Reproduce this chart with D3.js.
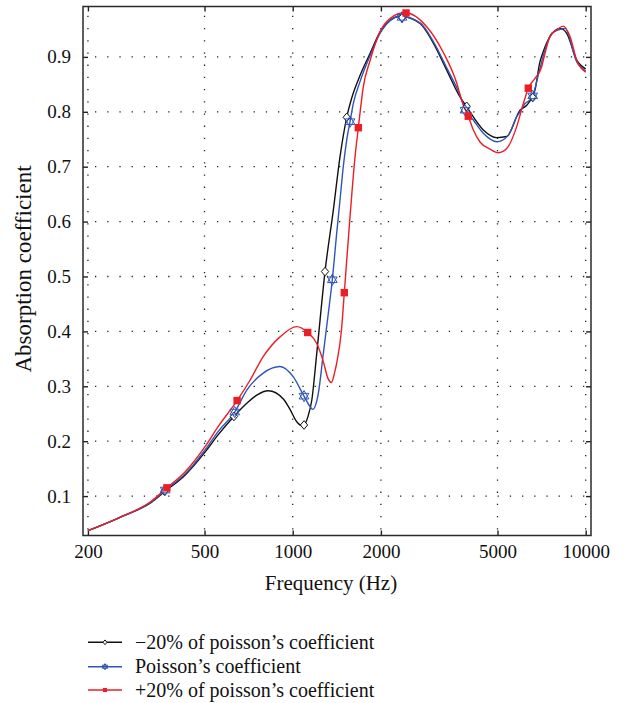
<!DOCTYPE html>
<html>
<head>
<meta charset="utf-8">
<script src="https://cdnjs.cloudflare.com/ajax/libs/d3/7.8.5/d3.min.js"></script>
<style>
  body { margin: 0; background: #fff; }
  svg text { font-family: "Liberation Serif", "DejaVu Serif", serif !important; fill: #111; }
</style>
</head>
<body>
<svg id="chart" width="625" height="703"></svg>
<script>
// ---- data ----
const xTicks = [200, 500, 1000, 2000, 5000, 10000];
const yTicks = [0.1, 0.2, 0.3, 0.4, 0.5, 0.6, 0.7, 0.8, 0.9];

// -20% of poisson's coefficient (black)
const freqMinus = [200, 254, 330, 365, 429, 502, 557, 630, 697, 754, 825, 929, 979, 1032, 1087, 1127, 1162, 1208, 1289, 1376, 1450, 1529, 1590, 1697, 1836, 1986, 2330, 2720, 3020, 3354, 3724, 3924, 4472, 4970, 5376, 5968, 6290, 6714, 6972, 7168, 7552, 8174, 8614, 9320, 10000];
const valMinus  = [0.037, 0.060, 0.089, 0.108, 0.138, 0.180, 0.212, 0.245, 0.269, 0.284, 0.292, 0.277, 0.258, 0.2355, 0.2277, 0.2447, 0.275, 0.36, 0.509, 0.621, 0.718, 0.790, 0.825, 0.866, 0.906, 0.945, 0.974, 0.961, 0.925, 0.876, 0.827, 0.809, 0.767, 0.753, 0.755, 0.803, 0.812, 0.840, 0.890, 0.910, 0.937, 0.952, 0.943, 0.894, 0.878];
const markMinusF = [365, 630, 1093, 1289, 1529, 2361, 3924, 6594];
const markMinusV = [0.109, 0.245, 0.2295, 0.509, 0.790, 0.971, 0.810, 0.826];

// Poisson's coefficient (blue)
const freqBase = [200, 254, 330, 367, 429, 502, 557, 634, 697, 793, 905, 1005, 1093, 1146, 1170, 1223, 1272, 1323, 1365, 1413, 1450, 1488, 1529, 1569, 1610, 1697, 1836, 1986, 2330, 2720, 3020, 3354, 3724, 3873, 4135, 4472, 4983, 5443, 5814, 5968, 6206, 6455, 6594, 6890, 7262, 7654, 8174, 8500, 9320, 10000];
const valBase  = [0.037, 0.060, 0.090, 0.111, 0.140, 0.184, 0.218, 0.253, 0.293, 0.324, 0.336, 0.317, 0.282, 0.263, 0.258, 0.287, 0.36, 0.433, 0.494, 0.579, 0.639, 0.700, 0.749, 0.782, 0.815, 0.855, 0.902, 0.943, 0.974, 0.962, 0.928, 0.880, 0.830, 0.805, 0.785, 0.761, 0.7455, 0.757, 0.791, 0.800, 0.815, 0.8215, 0.829, 0.867, 0.9126, 0.943, 0.950, 0.952, 0.891, 0.874];
const markBaseF = [367, 634, 1093, 1365, 1569, 2361, 3873, 6594];
const markBaseV = [0.111, 0.253, 0.282, 0.494, 0.782, 0.972, 0.803, 0.829];

// +20% of poisson's coefficient (red)
const freqPlus = [200, 254, 330, 372, 429, 502, 557, 646, 715, 793, 905, 1032, 1125, 1208, 1272, 1320, 1355, 1390, 1413, 1467, 1500, 1569, 1632, 1675, 1742, 1836, 1986, 2148, 2417, 2867, 3266, 3630, 3774, 3974, 4135, 4358, 4714, 5032, 5376, 5814, 6126, 6370, 6714, 7076, 7168, 7552, 8000, 8388, 8840, 9320, 10000];
const valPlus  = [0.037, 0.060, 0.091, 0.115, 0.144, 0.190, 0.227, 0.274, 0.311, 0.354, 0.390, 0.4086, 0.398, 0.378, 0.345, 0.314, 0.307, 0.325, 0.342, 0.4026, 0.4705, 0.609, 0.718, 0.771, 0.846, 0.893, 0.946, 0.970, 0.981, 0.955, 0.908, 0.852, 0.821, 0.792, 0.767, 0.745, 0.732, 0.7255, 0.733, 0.773, 0.815, 0.843, 0.861, 0.882, 0.894, 0.937, 0.950, 0.956, 0.937, 0.894, 0.872];
const markPlusF = [372, 646, 1125, 1500, 1675, 2437, 3974, 6370];
const markPlusV = [0.115, 0.274, 0.398, 0.4705, 0.771, 0.980, 0.792, 0.843];

const seriesNames = ["\u221220% of poisson\u2019s coefficient", "Poisson\u2019s coefficient", "+20% of poisson\u2019s coefficient"];
const seriesColors = ["#111111", "#2f55b5", "#ee1c25"];

// ---- layout ----
const serif = "'Liberation Serif', 'DejaVu Serif', serif";
const svg = d3.select("#chart");
const plot = { left: 83, right: 591, top: 6.5, bottom: 535.5 };

const x = d3.scaleLog().domain([192.4, 10426]).range([plot.left, plot.right]);
const y = d3.scaleLinear().domain([0.0282, 0.9918]).range([plot.bottom, plot.top]);

// grid (dotted)
const grid = svg.append("g").attr("stroke", "#222").attr("stroke-width", 1.3)
  .attr("stroke-dasharray", "1.3,10.9");
grid.selectAll(".vg").data(xTicks).join("line")
  .attr("x1", d => x(d)).attr("x2", d => x(d))
  .attr("y1", plot.bottom - 6).attr("y2", plot.top);
grid.selectAll(".hg").data(yTicks).join("line")
  .attr("x1", plot.left + 12).attr("x2", plot.right)
  .attr("y1", d => y(d)).attr("y2", d => y(d));

// axes, ticks pointing inward
const axisFont = "19px";
svg.append("g").attr("transform", `translate(0,${plot.bottom})`)
  .call(d3.axisBottom(x).tickValues(xTicks).tickFormat(d3.format("d"))
    .tickSizeInner(-5).tickSizeOuter(0).tickPadding(9))
  .attr("font-family", serif)
  .call(g => g.select(".domain").remove())
  .call(g => g.selectAll("text").style("font-size", axisFont).style("font-family", serif));
svg.append("g").attr("transform", `translate(0,${plot.top})`)
  .call(d3.axisTop(x).tickValues(xTicks).tickFormat("").tickSizeInner(-5).tickSizeOuter(0))
  .call(g => g.select(".domain").remove());
svg.append("g").attr("transform", `translate(${plot.left},0)`)
  .call(d3.axisLeft(y).tickValues(yTicks).tickFormat(d3.format(".1f"))
    .tickSizeInner(-5).tickSizeOuter(0).tickPadding(12))
  .attr("font-family", serif)
  .call(g => g.select(".domain").remove())
  .call(g => g.selectAll("text").style("font-size", axisFont).style("font-family", serif));
svg.append("g").attr("transform", `translate(${plot.right},0)`)
  .call(d3.axisRight(y).tickValues(yTicks).tickFormat("").tickSizeInner(-5).tickSizeOuter(0))
  .call(g => g.select(".domain").remove());
svg.selectAll(".tick line").attr("stroke", "#222").attr("stroke-width", 1.4);

svg.append("rect")
  .attr("x", plot.left).attr("y", plot.top)
  .attr("width", plot.right - plot.left).attr("height", plot.bottom - plot.top)
  .attr("fill", "none").attr("stroke", "#2a2a2a").attr("stroke-width", 1.5);

// axis titles
svg.append("text").attr("x", 331).attr("y", 590).attr("text-anchor", "middle")
  .style("font-family", serif).style("font-size", "21px").text("Frequency (Hz)");
svg.append("text").attr("transform", "translate(31,269) rotate(-90)").attr("text-anchor", "middle")
  .style("font-family", serif).style("font-size", "23px").text("Absorption coefficient");

// ---- curves ----
const lineData = [
  d3.zip(freqMinus, valMinus),
  d3.zip(freqBase, valBase),
  d3.zip(freqPlus, valPlus)
];
const markData = [
  d3.zip(markMinusF, markMinusV),
  d3.zip(markBaseF, markBaseV),
  d3.zip(markPlusF, markPlusV)
];

svg.append("clipPath").attr("id", "clip").append("rect")
  .attr("x", plot.left).attr("y", plot.top)
  .attr("width", plot.right - plot.left).attr("height", plot.bottom - plot.top);

const line = d3.line().x(d => x(d[0])).y(d => y(d[1])).curve(d3.curveMonotoneX);

function starPath(r) {
  const pt = a => [r * Math.cos(a), r * Math.sin(a)];
  let p = "";
  [-Math.PI / 2, Math.PI / 2].forEach(a0 => {
    const pts = [0, 1, 2].map(k => pt(a0 + k * 2 * Math.PI / 3));
    p += "M" + pts.map(q => q[0].toFixed(2) + "," + q[1].toFixed(2)).join("L") + "Z";
  });
  return p;
}
function drawMarker(g, i, scale) {
  if (i === 0) {
    const s = 4.3 * scale;
    g.append("path").attr("d", `M0,${-s}L${s * 0.85},0L0,${s}L${-s * 0.85},0Z`)
      .attr("fill", "#fff").attr("stroke", seriesColors[0]).attr("stroke-width", 1);
  } else if (i === 1) {
    g.append("path").attr("d", starPath(5.6 * scale))
      .attr("fill", "none").attr("stroke", seriesColors[1]).attr("stroke-width", 1);
  } else {
    const s = 3.7 * scale;
    g.append("rect").attr("x", -s).attr("y", -s).attr("width", 2 * s).attr("height", 2 * s)
      .attr("fill", seriesColors[2]);
  }
}

const curves = svg.append("g").attr("clip-path", "url(#clip)");
lineData.forEach((data, i) => {
  curves.append("path").datum(data)
    .attr("d", line).attr("fill", "none")
    .attr("stroke", seriesColors[i]).attr("stroke-width", 1.4);
});
markData.forEach((data, i) => {
  data.forEach(d => {
    const g = curves.append("g").attr("transform", `translate(${x(d[0])},${y(d[1])})`);
    drawMarker(g, i, 1);
  });
});

// ---- legend ----
const legendY = [642.3, 666.7, 690];
seriesNames.forEach((name, i) => {
  const g = svg.append("g").attr("transform", `translate(0,${legendY[i]})`);
  g.append("line").attr("x1", 88).attr("x2", 122).attr("y1", 0).attr("y2", 0)
    .attr("stroke", seriesColors[i]).attr("stroke-width", 1.4);
  const m = g.append("g").attr("transform", "translate(105,0)");
  drawMarker(m, i, 0.55);
  g.append("text").attr("x", 135).attr("y", 6.5)
    .style("font-family", serif).style("font-size", "20px").text(name);
});
</script>
</body>
</html>
